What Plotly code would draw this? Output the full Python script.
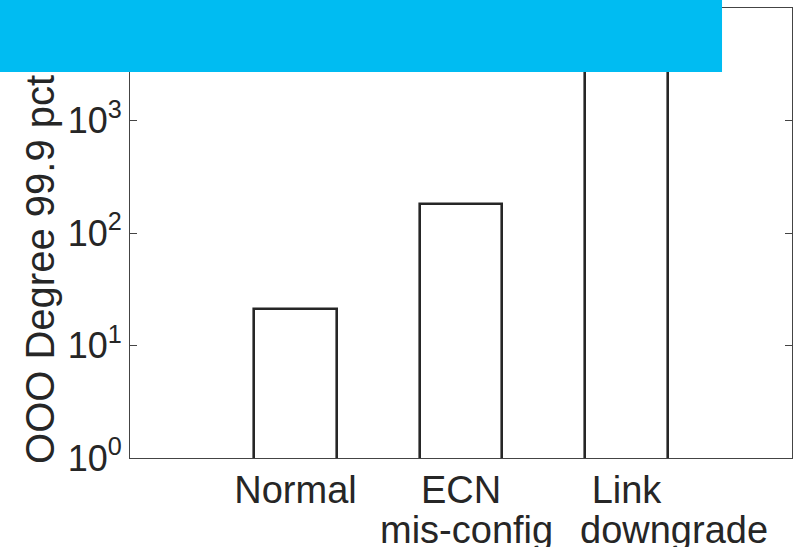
import plotly.graph_objects as go

# Bar data: 99.9th percentile out-of-order degree per scenario
categories = ["Normal", "ECN mis-config", "Link downgrade"]
label_top = ["Normal", "ECN", "Link"]
label_bottom = ["", "mis-config", "downgrade"]
values = [21, 180, 8000]

# Log-scale y tick labels
y_tickvals = [1, 10, 100, 1000]
y_ticktext = ["10<sup>0</sup>", "10<sup>1</sup>", "10<sup>2</sup>", "10<sup>3</sup>"]

FONT = "Liberation Sans, Arial, sans-serif"
INK = "#262626"

# horizontal nudge (px) of the second label line relative to its bar
second_line_shift = {"ECN mis-config": 5, "Link downgrade": 47}

fig = go.Figure()
fig.add_trace(go.Bar(
    x=categories,
    y=values,
    width=0.5,
    marker=dict(color="white", line=dict(color=INK, width=2.6)),
    showlegend=False,
))

fig.update_layout(
    width=793,
    height=547,
    margin=dict(l=130, r=1, t=8, b=89),
    paper_bgcolor="white",
    plot_bgcolor="white",
    font=dict(family=FONT, color=INK),
    bargap=0,
)

fig.update_xaxes(
    type="category",
    range=[-1, 3],
    tickmode="array",
    tickvals=categories,
    ticktext=label_top,
    ticks="",
    showgrid=False,
    zeroline=False,
    showline=True,
    linecolor="#444",
    linewidth=1.2,
    mirror=True,
    tickfont=dict(size=38, family=FONT, color=INK),
    ticklabelstandoff=-2,
)

fig.update_yaxes(
    type="log",
    range=[0, 4],
    tickmode="array",
    tickvals=y_tickvals,
    ticktext=y_ticktext,
    ticks="inside",
    ticklen=7,
    tickwidth=1,
    tickcolor="#444",
    showgrid=False,
    zeroline=False,
    showline=True,
    linecolor="#444",
    linewidth=1.2,
    mirror="ticks",
    tickfont=dict(size=36, family=FONT, color=INK),
)

# Second line of the category labels
for cat, txt in zip(categories, label_bottom):
    if txt:
        fig.add_annotation(
            x=cat, y=-0.159, xref="x", yref="paper",
            text=txt, showarrow=False,
            xanchor="center", yanchor="middle",
            xshift=second_line_shift.get(cat, 0),
            font=dict(size=38, family=FONT, color=INK),
        )

# Y-axis title
fig.add_annotation(
    x=-0.136, y=0.42, xref="paper", yref="paper",
    text="OOO Degree 99.9 pct", showarrow=False,
    textangle=-90, xanchor="center", yanchor="middle",
    font=dict(size=40, family=FONT, color=INK),
)

# Solid banner across the top
fig.add_shape(
    type="rect", xref="paper", yref="paper",
    x0=-0.1964, x1=0.8943, y0=0.8578, y1=1.03,
    fillcolor="#00BCF2", line=dict(width=0), layer="above",
)

fig.write_html("out.html")
